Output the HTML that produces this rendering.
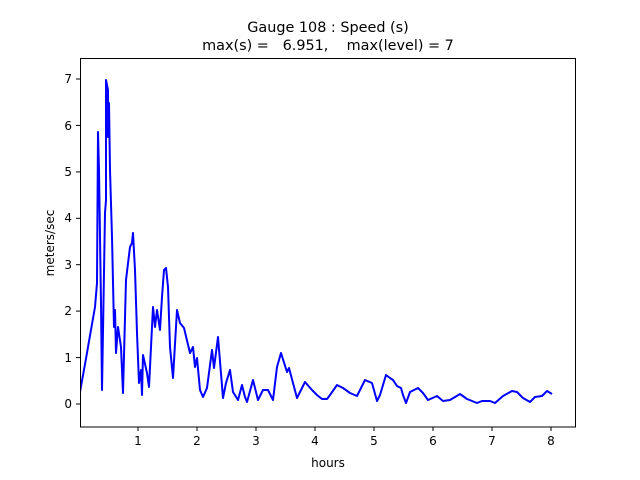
<!DOCTYPE html>
<html><head><style>
body{margin:0;background:#fff;}
svg{display:block;font-family:"DejaVu Sans","Liberation Sans",sans-serif;}
</style></head><body>
<svg width="640" height="480" viewBox="0 0 640 480" xmlns="http://www.w3.org/2000/svg">
<rect width="640" height="480" fill="#fff"/>
<text x="328" y="32" font-size="14.4" text-anchor="middle">Gauge 108 : Speed (s)</text>
<text x="328" y="50" font-size="14.4" text-anchor="middle" xml:space="preserve">max(s) =   6.951,    max(level) = 7</text>
<clipPath id="c"><rect x="80" y="58" width="496" height="369"/></clipPath>
<polyline clip-path="url(#c)" fill="none" stroke="#0000ff" stroke-width="2" stroke-linejoin="round" points="
80,392 87,353 88,347 95,307 97,283 98,132 99,170 101,303 102,390 105,213 106,200 106,80 108,90 108,137 109,103 110,170 112,237 114,327 115,310 116,353 118,327 121,347 123,393 126,280 130,247 132,243 133,233 135,270 137,333 139,383 141,370 142,395 143,355 147,373 149,387 153,307 155,327 157,310 160,330 162,297 164,270 166,268 168,287 170,347 173,378 177,310 180,323 184,328 190,353 193,347 195,367 197,358 200,390 203,397 207,388 212,350 214,368 218,337 223,398 226,383 230,370 233,392 238,400 242,385 245,397 247,402 253,380 258,400 263,390 268,390 273,400 277,367 281,353 287,372 289,368 297,398 305,382 312,390 317,395 322,399 327,399 330,395 337,385 343,388 350,393 357,396 365,380 372,383 377,401 380,395 386,375 390,378 393,380 397,386 401,388 403,395 406,403 410,392 418,388 423,393 428,400 437,396 443,401 450,400 455,397 460,394 467,399 477,403 482,401 490,401 495,403 503,396 512,391 517,392 523,398 530,402 535,397 542,396 547,391 552,394"/>
<rect x="80.5" y="58.5" width="495" height="368.5" fill="none" stroke="#000" stroke-width="1"/>
<g stroke="#000" stroke-width="1">
<line x1="138" y1="427" x2="138" y2="431"/><line x1="197" y1="427" x2="197" y2="431"/><line x1="256" y1="427" x2="256" y2="431"/><line x1="315" y1="427" x2="315" y2="431"/><line x1="374" y1="427" x2="374" y2="431"/><line x1="433" y1="427" x2="433" y2="431"/><line x1="492" y1="427" x2="492" y2="431"/><line x1="551" y1="427" x2="551" y2="431"/>
<line x1="76" y1="404" x2="80" y2="404"/><line x1="76" y1="357.6" x2="80" y2="357.6"/><line x1="76" y1="311.1" x2="80" y2="311.1"/><line x1="76" y1="264.7" x2="80" y2="264.7"/><line x1="76" y1="218.3" x2="80" y2="218.3"/><line x1="76" y1="171.9" x2="80" y2="171.9"/><line x1="76" y1="125.4" x2="80" y2="125.4"/><line x1="76" y1="79" x2="80" y2="79"/>
</g>
<g font-size="12" text-anchor="middle">
<text x="138" y="445">1</text><text x="197" y="445">2</text><text x="256" y="445">3</text><text x="315" y="445">4</text><text x="374" y="445">5</text><text x="433" y="445">6</text><text x="492" y="445">7</text><text x="551" y="445">8</text>
<text x="328" y="467">hours</text>
</g>
<g font-size="12" text-anchor="end">
<text x="72" y="408">0</text><text x="72" y="362">1</text><text x="72" y="315">2</text><text x="72" y="269">3</text><text x="72" y="222">4</text><text x="72" y="176">5</text><text x="72" y="130">6</text><text x="72" y="83">7</text>
</g>
<text x="54" y="243" font-size="12" text-anchor="middle" transform="rotate(-90 54 243)">meters/sec</text>
</svg>
</body></html>
